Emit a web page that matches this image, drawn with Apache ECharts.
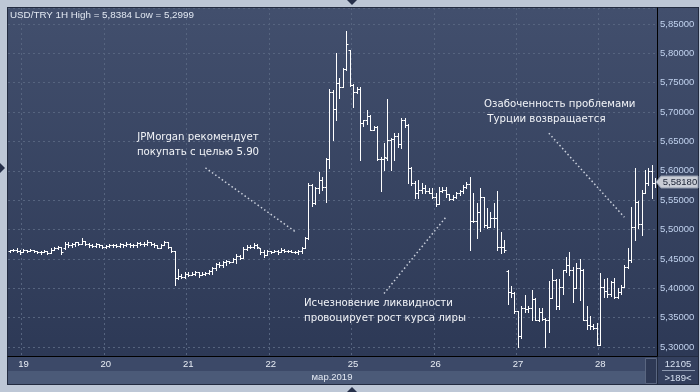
<!DOCTYPE html>
<html><head><meta charset="utf-8">
<script src="https://cdn.jsdelivr.net/npm/echarts@6/dist/echarts.min.js"></script>
<style>html,body{margin:0;padding:0;background:#bdc7d6;overflow:hidden}#c{width:700px;height:392px}</style>
</head><body><div id="c"></div>
<script>
// ---- data ----
const tradingDays = ['18','19','20','21','22','25','26','27','28'];
const firstHour = 20;      // first bar: 18 Mar 20:00
const lastHour = 16;       // last bar: 28 Mar 16:00
const monthLabel = 'мар.2019';
const titleText = 'USD/TRY 1H High = 5,8384 Low = 5,2999';
const barCountText = '12105';
const visibleText = '>189<';
const yTicks = [5.30,5.35,5.40,5.45,5.50,5.55,5.60,5.65,5.70,5.75,5.80,5.85];
// hourly bars [open, high, low, close]
const bars = [
[5.463,5.466,5.462,5.465],[5.465,5.467,5.464,5.466],[5.466,5.468,5.462,5.463],[5.463,5.465,5.459,5.461],
[5.461,5.467,5.461,5.465],[5.465,5.466,5.462,5.464],[5.464,5.467,5.463,5.466],[5.466,5.466,5.462,5.463],
[5.463,5.464,5.460,5.461],[5.461,5.463,5.459,5.462],[5.462,5.465,5.461,5.463],[5.463,5.463,5.458,5.460],
[5.460,5.468,5.460,5.466],[5.466,5.471,5.465,5.469],[5.469,5.472,5.467,5.470],[5.470,5.470,5.459,5.461],
[5.468,5.479,5.467,5.476],[5.476,5.478,5.471,5.474],[5.474,5.477,5.471,5.475],[5.475,5.479,5.472,5.478],
[5.478,5.479,5.474,5.476],[5.476,5.485,5.475,5.480],[5.480,5.480,5.474,5.476],[5.476,5.477,5.471,5.473],
[5.473,5.476,5.470,5.472],[5.472,5.477,5.471,5.475],[5.475,5.476,5.471,5.473],[5.473,5.474,5.468,5.470],
[5.470,5.473,5.469,5.472],[5.472,5.476,5.471,5.473],[5.473,5.475,5.471,5.474],[5.474,5.475,5.471,5.472],
[5.472,5.477,5.471,5.475],[5.475,5.476,5.471,5.473],[5.473,5.478,5.472,5.476],[5.476,5.477,5.471,5.473],
[5.473,5.475,5.471,5.474],[5.474,5.479,5.471,5.477],[5.477,5.479,5.474,5.476],[5.476,5.478,5.472,5.475],
[5.475,5.482,5.474,5.479],[5.479,5.479,5.473,5.476],[5.476,5.477,5.471,5.473],[5.473,5.474,5.468,5.469],
[5.469,5.476,5.469,5.474],[5.474,5.480,5.473,5.478],[5.478,5.478,5.468,5.470],[5.470,5.471,5.462,5.463],
[5.463,5.464,5.406,5.418],[5.418,5.433,5.415,5.421],[5.421,5.424,5.417,5.419],[5.419,5.428,5.417,5.425],
[5.425,5.428,5.421,5.423],[5.423,5.427,5.422,5.425],[5.425,5.429,5.422,5.427],[5.427,5.428,5.420,5.423],
[5.423,5.427,5.422,5.425],[5.425,5.428,5.422,5.426],[5.426,5.431,5.424,5.429],[5.429,5.437,5.425,5.435],
[5.435,5.443,5.431,5.441],[5.441,5.444,5.437,5.440],[5.440,5.446,5.437,5.444],[5.444,5.448,5.440,5.446],
[5.446,5.447,5.443,5.445],[5.445,5.452,5.444,5.450],[5.450,5.459,5.443,5.455],[5.455,5.456,5.449,5.452],
[5.452,5.471,5.451,5.467],[5.467,5.474,5.466,5.471],[5.471,5.473,5.468,5.470],[5.470,5.477,5.469,5.474],
[5.474,5.475,5.468,5.470],[5.468,5.468,5.459,5.462],[5.462,5.465,5.454,5.457],[5.457,5.465,5.456,5.463],
[5.463,5.464,5.460,5.462],[5.462,5.465,5.461,5.464],[5.464,5.465,5.459,5.461],[5.461,5.468,5.461,5.466],
[5.466,5.467,5.461,5.463],[5.463,5.465,5.462,5.464],[5.464,5.465,5.461,5.462],[5.462,5.464,5.460,5.461],
[5.461,5.465,5.459,5.463],[5.463,5.471,5.460,5.469],[5.469,5.488,5.468,5.486],
[5.486,5.580,5.484,5.575],[5.575,5.578,5.540,5.545],[5.545,5.572,5.543,5.570],[5.570,5.598,5.562,5.584],
[5.584,5.590,5.568,5.573],[5.573,5.622,5.547,5.620],[5.620,5.739,5.605,5.735],[5.735,5.737,5.652,5.705],
[5.705,5.800,5.686,5.749],[5.749,5.758,5.724,5.743],[5.743,5.775,5.742,5.773],[5.773,5.8384,5.772,5.816],
[5.805,5.806,5.745,5.746],[5.746,5.747,5.708,5.735],[5.735,5.743,5.733,5.740],[5.740,5.742,5.618,5.681],
[5.681,5.687,5.676,5.686],[5.686,5.704,5.680,5.693],[5.693,5.695,5.669,5.670],[5.670,5.677,5.669,5.675],
[5.675,5.676,5.618,5.620],[5.620,5.624,5.565,5.620],[5.620,5.647,5.601,5.624],[5.622,5.723,5.618,5.652],
[5.652,5.656,5.601,5.655],[5.655,5.664,5.618,5.660],[5.660,5.665,5.640,5.645],[5.645,5.690,5.638,5.687],
[5.687,5.690,5.675,5.678],[5.678,5.679,5.579,5.605],[5.605,5.607,5.576,5.580],[5.580,5.582,5.553,5.562],
[5.562,5.584,5.553,5.567],[5.567,5.580,5.562,5.570],[5.570,5.576,5.562,5.566],[5.566,5.570,5.562,5.563],
[5.563,5.570,5.553,5.556],[5.556,5.562,5.540,5.544],[5.544,5.572,5.543,5.565],[5.565,5.573,5.564,5.568],
[5.568,5.573,5.556,5.560],[5.560,5.561,5.550,5.552],[5.552,5.558,5.550,5.556],[5.556,5.564,5.553,5.562],
[5.562,5.567,5.559,5.565],[5.565,5.576,5.562,5.573],[5.573,5.581,5.570,5.577],[5.577,5.590,5.466,5.515],
[5.515,5.563,5.512,5.515],[5.515,5.545,5.485,5.530],[5.530,5.570,5.497,5.555],[5.555,5.556,5.505,5.508],
[5.508,5.536,5.503,5.505],[5.505,5.530,5.504,5.520],[5.520,5.545,5.505,5.520],[5.520,5.565,5.466,5.471],
[5.471,5.496,5.460,5.471],[5.471,5.482,5.462,5.465],[5.430,5.431,5.374,5.394],[5.394,5.404,5.386,5.392],
[5.392,5.393,5.358,5.361],[5.361,5.362,5.2999,5.318],[5.318,5.369,5.316,5.367],[5.367,5.389,5.360,5.365],
[5.365,5.369,5.360,5.366],[5.366,5.397,5.346,5.381],[5.381,5.383,5.346,5.346],[5.346,5.366,5.344,5.360],
[5.360,5.366,5.346,5.348],[5.348,5.350,5.300,5.346],[5.346,5.412,5.326,5.383],[5.383,5.432,5.383,5.414],
[5.414,5.415,5.365,5.369],[5.369,5.415,5.365,5.403],[5.403,5.431,5.391,5.431],[5.431,5.454,5.428,5.440],
[5.440,5.462,5.423,5.431],[5.431,5.437,5.377,5.400],[5.400,5.443,5.400,5.435],[5.435,5.449,5.380,5.431],
[5.431,5.432,5.346,5.346],[5.346,5.370,5.330,5.337],[5.337,5.352,5.330,5.335],[5.335,5.340,5.330,5.333],
[5.333,5.341,5.303,5.304],[5.304,5.426,5.303,5.403],[5.403,5.415,5.385,5.395],[5.395,5.417,5.385,5.390],
[5.390,5.413,5.387,5.410],[5.410,5.417,5.383,5.386],[5.386,5.400,5.383,5.393],[5.393,5.406,5.391,5.403],
[5.403,5.440,5.403,5.436],[5.436,5.468,5.434,5.448],[5.448,5.539,5.445,5.505],[5.505,5.604,5.482,5.547],
[5.547,5.548,5.502,5.510],[5.510,5.567,5.490,5.562],[5.562,5.601,5.562,5.579],[5.579,5.604,5.576,5.600],
[5.600,5.610,5.553,5.579],[5.579,5.587,5.573,5.5818]
];
// annotations: text lines and dotted pointer lines (in data coordinates: [bar index, price])
const noteTexts = [
  ['JPMorgan рекомендует','покупать с целью 5.90'],
  ['Исчезновение ликвидности','провоцирует рост курса лиры'],
  ['Озабоченность проблемами',' Турции возвращается']
];
const notePointers = [
  [[57,5.605],[83,5.497]],
  [[109,5.391],[127,5.521]],
  [[157,5.664],[179,5.521]]
];

// ---- build ----
const categories = [];
tradingDays.forEach((d, k) => {
  const h0 = k === 0 ? firstHour : 0;
  const h1 = k === tradingDays.length - 1 ? lastHour : 23;
  for (let h = h0; h <= h1; h++) categories.push(d + ' ' + String(h).padStart(2, '0') + ':00');
});
const isDayStart = (i) => categories[i] && categories[i].endsWith(' 00:00');
const FONT = 'Liberation Sans';
const NFONT = 'DejaVu Sans';
const chart = echarts.init(document.getElementById('c'), null, {renderer: 'canvas'});
const lastClose = bars[bars.length - 1][3];

function renderBar(params, api) {
  const i = api.value(0);
  const o = api.coord([i, api.value(1)]);
  const h = api.coord([i, api.value(2)]);
  const l = api.coord([i, api.value(3)]);
  const c = api.coord([i, api.value(4)]);
  const x = Math.round(o[0]) + 0.5;
  const t = 2;
  const st = {stroke: '#ffffff', lineWidth: 1};
  const yo = Math.round(o[1]) + 0.5, yc = Math.round(c[1]) + 0.5;
  return {type: 'group', children: [
    {type: 'line', shape: {x1: x, y1: Math.round(h[1]), x2: x, y2: Math.round(l[1]) + 1}, style: st},
    {type: 'line', shape: {x1: x - t, y1: yo, x2: x, y2: yo}, style: st},
    {type: 'line', shape: {x1: x, y1: yc, x2: x + t, y2: yc}, style: st}
  ]};
}

const gridLine = {color: '#56647f', type: [2, 3], width: 1};
const series = [{
  type: 'custom', renderItem: renderBar, clip: true,
  data: bars.map((b, i) => [i, b[0], b[1], b[2], b[3]]),
  encode: {x: 0, y: [1, 2, 3, 4]}, z: 5, silent: true
}];
notePointers.forEach(p => series.push({
  type: 'line', data: p, symbol: 'none', silent: true, z: 4,
  lineStyle: {color: '#c9cfdb', width: 1.5, type: [1.5, 2.5]}
}));

const noteGraphics = [];
const notePos = [[198, 137, 'center'], [304, 303, 'left'], [484, 104, 'left']];
noteTexts.forEach((lines, k) => {
  lines.forEach((s, j) => noteGraphics.push({
    type: 'text', x: notePos[k][0], y: notePos[k][1] + j * 15, z: 20,
    style: {text: s, fill: '#f2f4f8', font: '10.2px "' + NFONT + '"', textAlign: notePos[k][2], textVerticalAlign: 'middle'}
  }));
});

const option = {
  animation: false,
  backgroundColor: 'transparent',
  grid: {left: 8, right: 43, top: 8, bottom: 36, containLabel: false},
  xAxis: {
    type: 'category', data: categories, boundaryGap: true,
    axisLine: {show: true, lineStyle: {color: '#000000', width: 1}},
    axisTick: {show: false, interval: (i) => isDayStart(i)},
    axisLabel: {interval: (i) => isDayStart(i), formatter: (v) => v.split(' ')[0],
      color: '#e8edf5', fontSize: 9.5, fontFamily: FONT, margin: 3},
    splitLine: {show: true, interval: (i) => isDayStart(i), lineStyle: gridLine}
  },
  yAxis: {
    type: 'value', position: 'right', min: 5.2847, max: 5.8772, splitNumber: 12, scale: true,
    axisLine: {show: true, lineStyle: {color: '#000000', width: 1}},
    axisTick: {show: false},
    axisLabel: {color: '#c2d3ef', fontSize: 9.5, fontFamily: FONT, margin: 3, showMinLabel: false, showMaxLabel: false,
      formatter: (v) => yTicks.some(t => Math.abs(t - v) < 1e-6) ? v.toFixed(5).replace('.', ',') : ''},
    splitLine: {show: true, lineStyle: gridLine}
  },
  series: series,
  graphic: [
    {type: 'rect', z: -2, shape: {x: 7, y: 7, width: 692, height: 378}, style: {fill: '#222b40'}},
    {type: 'rect', z: -1, shape: {x: 8, y: 8, width: 690, height: 348},
      style: {fill: new echarts.graphic.LinearGradient(0, 0, 0, 1, [{offset: 0, color: '#424f6d'}, {offset: 1, color: '#2d3956'}])}},
    {type: 'rect', z: -1, shape: {x: 8, y: 357, width: 649, height: 14}, style: {fill: '#3c4968'}},
    {type: 'rect', z: -1, shape: {x: 8, y: 371, width: 649, height: 13}, style: {fill: '#4b5a78'}},
    {type: 'rect', z: -1, shape: {x: 658, y: 357, width: 40, height: 27}, style: {fill: '#34405e'}},
    {type: 'rect', z: 1, shape: {x: 645.5, y: 358.5, width: 11, height: 25}, style: {fill: '#2e3955', stroke: '#5a6680', lineWidth: 1}},
    {type: 'line', z: 1, shape: {x1: 662, y1: 370.5, x2: 695, y2: 370.5}, style: {stroke: '#8d99b0', lineWidth: 1}},
    {type: 'text', z: 2, x: 678, y: 364, style: {text: barCountText, fill: '#d6e0f0', font: '9.5px "' + FONT + '"', textAlign: 'center', textVerticalAlign: 'middle'}},
    {type: 'text', z: 2, x: 678, y: 378, style: {text: visibleText, fill: '#d6e0f0', font: '9.5px "' + FONT + '"', textAlign: 'center', textVerticalAlign: 'middle'}},
    {type: 'text', z: 2, x: 332, y: 377.5, style: {text: monthLabel, fill: '#e3e9f3', font: '9.5px "' + FONT + '"', textAlign: 'center', textVerticalAlign: 'middle'}},
    {type: 'text', z: 20, x: 10, y: 15, style: {text: titleText, fill: '#e2e8f2', font: '9.8px "' + FONT + '"', textAlign: 'left', textVerticalAlign: 'middle'}},
    {type: 'polygon', z: 20, shape: {points: [[347, 0], [357, 0], [352, 5]]}, style: {fill: '#26304a'}},
    {type: 'polygon', z: 20, shape: {points: [[347, 392], [357, 392], [352, 387]]}, style: {fill: '#26304a'}},
    {type: 'polygon', z: 20, shape: {points: [[0, 163], [0, 173], [5, 168]]}, style: {fill: '#26304a'}}
  ].concat(noteGraphics)
};
chart.setOption(option);

// current price tag at the last close
const py = Math.round(chart.convertToPixel({yAxisIndex: 0}, lastClose));
chart.setOption({graphic: option.graphic.concat([
  {type: 'polygon', z: 30, shape: {points: [[656, py], [661, py - 6], [698, py - 6], [698, py + 6], [661, py + 6]]},
    style: {fill: '#c9cdd6', stroke: '#8e98aa', lineWidth: 1}},
  {type: 'text', z: 31, x: 680, y: py, style: {text: lastClose.toFixed(5).replace('.', ','), fill: '#1b2335',
    font: '9.5px "' + FONT + '"', textAlign: 'center', textVerticalAlign: 'middle'}}
])});
</script></body></html>
